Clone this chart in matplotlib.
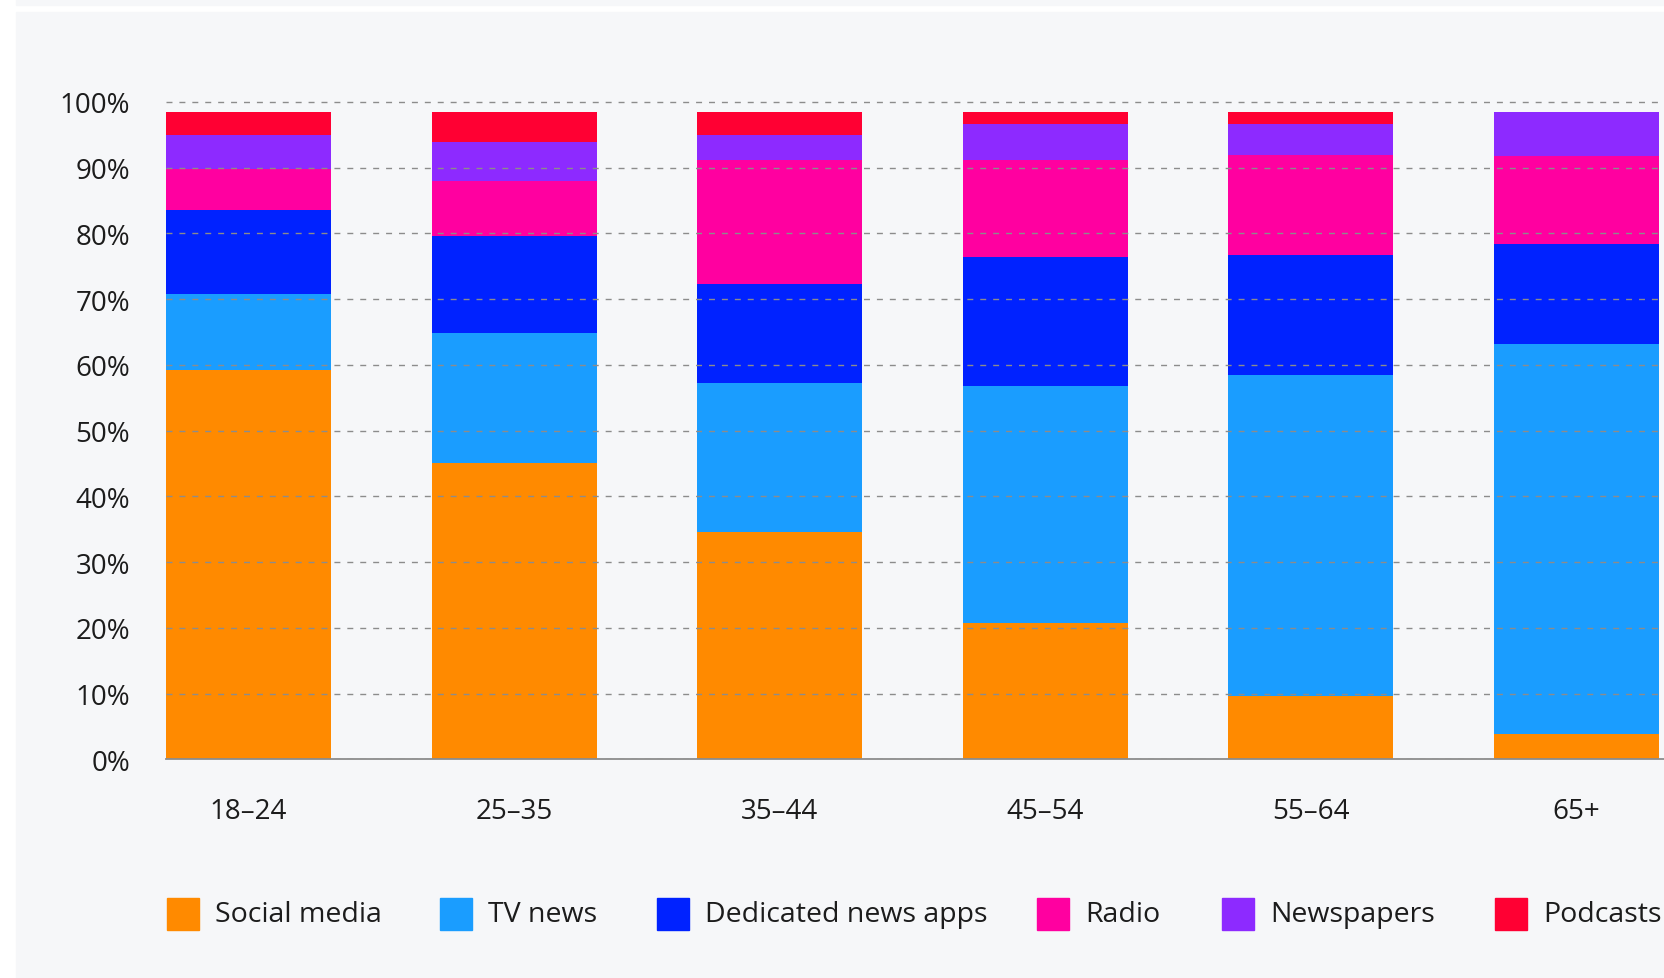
import matplotlib
matplotlib.use("Agg")
import matplotlib.pyplot as plt
from matplotlib.patches import Rectangle
import numpy as np

plt.rcParams["font.family"] = ["Open Sans", "DejaVu Sans"]

AGE_GROUPS = ["18–24", "25–35", "35–44", "45–54", "55–64", "65+"]

# share of each source per age group, %
SOCIAL_MEDIA = [59.2, 45.0, 34.6, 20.7, 9.6, 3.8]
TV_NEWS = [11.6, 19.8, 22.7, 36.1, 48.8, 59.4]
NEWS_APPS = [12.7, 14.8, 15.0, 19.6, 18.3, 15.2]
RADIO = [6.3, 8.3, 18.8, 14.7, 15.2, 13.3]
NEWSPAPERS = [5.1, 6.0, 3.8, 5.5, 4.7, 6.7]
PODCASTS = [3.5, 4.5, 3.5, 1.8, 1.8, 0.0]

SERIES = [
    ("Social media", SOCIAL_MEDIA, "#ff8a00"),
    ("TV news", TV_NEWS, "#1a9dff"),
    ("Dedicated news apps", NEWS_APPS, "#0022ff"),
    ("Radio", RADIO, "#ff00a0"),
    ("Newspapers", NEWSPAPERS, "#8d2aff"),
    ("Podcasts", PODCASTS, "#ff0033"),
]

W, H = 1665, 979
BG = "#f6f7f9"
TEXT = "#1c1c1c"

fig = plt.figure(figsize=(W / 100, H / 100), dpi=100, facecolor="white")

# panel background
fig.patches.append(Rectangle((16 / W, 0), 1 - 16 / W, 1 - 13 / H,
                             transform=fig.transFigure, color=BG, zorder=-10))
fig.patches.append(Rectangle((16 / W, 1 - 6 / H), 1 - 16 / W, 6 / H,
                             transform=fig.transFigure, color=BG, zorder=-10))

left, right = 166 / W, 1.0
bottom, top = 1 - 760.3 / H, 1 - 95 / H
ax = fig.add_axes([left, bottom, right - left, top - bottom])
ax.set_facecolor("none")

x = np.arange(len(AGE_GROUPS))
width = 0.621
base = np.zeros(len(AGE_GROUPS))
for name, vals, color in SERIES:
    vals = np.array(vals)
    ax.bar(x, vals, width, bottom=base, color=color, label=name, zorder=1)
    base += vals

ax.set_xlim(-width / 2, 5 + width / 2 + 6 / 265.6)
ax.set_ylim(0, 101.2)
ax.set_yticks(np.arange(0, 101, 10))
ax.set_yticklabels([f"{v}%" for v in range(0, 101, 10)])
ax.set_xticks(x)
ax.set_xticklabels(AGE_GROUPS)
ax.tick_params(axis="y", length=0, pad=26, labelsize=20, labelcolor=TEXT)
ax.tick_params(axis="x", length=0, pad=27, labelsize=20, labelcolor=TEXT)

ax.grid(axis="y", color="#8c8c8c", linewidth=1.0, linestyle=(0, (4.3, 5.0)), zorder=3)
ax.set_axisbelow(False)
for s in ["top", "right", "left"]:
    ax.spines[s].set_visible(False)
ax.spines["bottom"].set_color("#8c8c8c")
ax.spines["bottom"].set_linewidth(1.3)
ax.spines["bottom"].set_zorder(4)

# legend row
legend_x = [167, 440, 657, 1037, 1222, 1495]
ly = 915
sq = 32
for (name, _, color), lx in zip(SERIES, legend_x):
    fig.patches.append(Rectangle((lx / W, 1 - (ly + sq / 2) / H), sq / W, sq / H,
                                 transform=fig.transFigure, color=color))
    fig.text((lx + sq + 16) / W, 1 - ly / H, name, fontsize=20.5, color=TEXT,
             va="center", ha="left")

fig.savefig("out.png", dpi=100, facecolor="white")
